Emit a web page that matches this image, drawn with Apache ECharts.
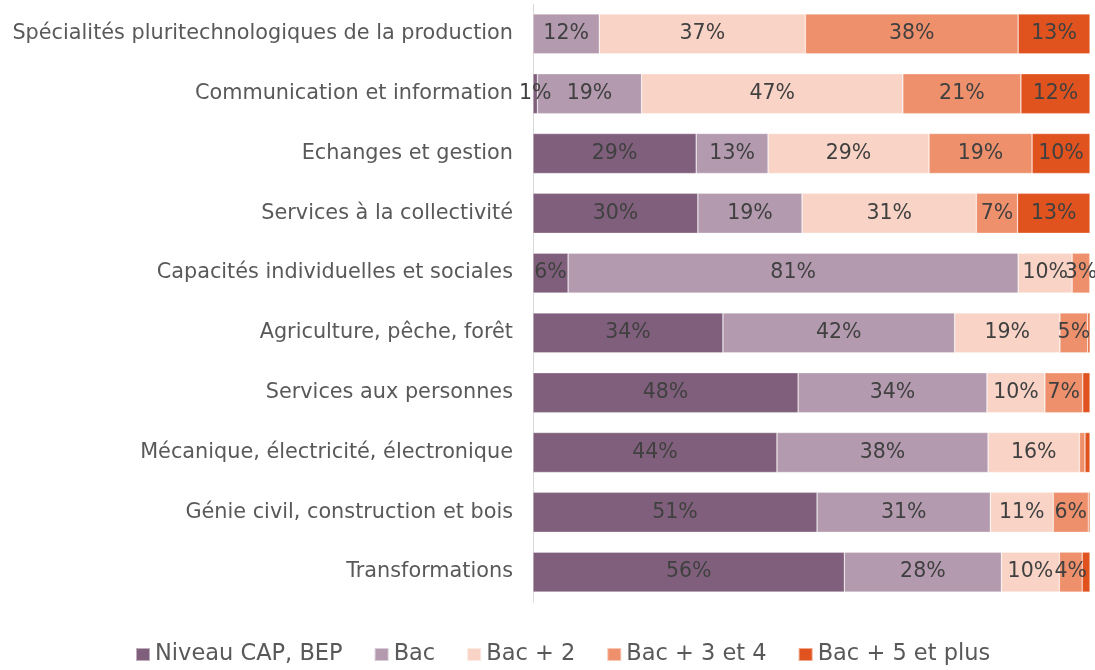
<!DOCTYPE html>
<html>
<head>
<meta charset="utf-8">
<script src="https://cdn.jsdelivr.net/npm/echarts@6/dist/echarts.min.js"></script>
<style>
  html, body { margin: 0; padding: 0; background: #fff; }
  #chart { width: 1095px; height: 670px; }
</style>
</head>
<body>
<div id="chart"></div>
<script>
// domaines de formation (de haut en bas)
const categories = [
  'Spécialités pluritechnologiques de la production',
  'Communication et information',
  'Echanges et gestion',
  'Services à la collectivité',
  'Capacités individuelles et sociales',
  'Agriculture, pêche, forêt',
  'Services aux personnes',
  'Mécanique, électricité, électronique',
  'Génie civil, construction et bois',
  'Transformations'
];

const levels = ['Niveau CAP, BEP', 'Bac', 'Bac + 2', 'Bac + 3 et 4', 'Bac + 5 et plus'];
const colors = ['#7f5f7b', '#b39aae', '#f9d4c6', '#ee906c', '#e0531e'];

// parts en %
const capBep = [0, 0.8, 29.3, 29.6, 6.3, 34.1, 47.6, 43.8, 51.0, 55.9];
const bac = [11.9, 18.7, 12.9, 18.7, 80.8, 41.6, 33.9, 37.9, 31.1, 28.2];
const bac2 = [37.0, 46.9, 28.9, 31.3, 9.7, 18.9, 10.4, 16.4, 11.3, 10.4];
const bac34 = [38.2, 21.2, 18.5, 7.4, 3.2, 5.0, 6.8, 1.0, 6.3, 4.1];
const bac5 = [12.9, 12.4, 10.4, 13.0, 0, 0.4, 1.3, 0.9, 0.3, 1.4];

const allData = [capBep, bac, bac2, bac34, bac5];

const chart = echarts.init(document.getElementById('chart'));
const font = 'DejaVu Sans';

const series = levels.map(function (name, s) {
  return {
    name: name,
    type: 'bar',
    stack: 'total',
    barWidth: 40,
    itemStyle: {
      color: colors[s],
      borderColor: 'rgba(255,255,255,0.5)',
      borderWidth: 0.6
    },
    label: {
      show: true,
      position: 'inside',
      color: '#404040',
      fontFamily: font,
      fontSize: 20.5,
      formatter: function (p) {
        // petites valeurs non étiquetées, sauf le 1% de Communication
        if (p.value < 2 && !(s === 0 && p.dataIndex === 1)) return '';
        return Math.round(p.value) + '%';
      }
    },
    data: allData[s]
  };
});

chart.setOption({
  animation: false,
  grid: { left: 533, right: 5, top: 4, bottom: 68 },
  legend: {
    bottom: -1,
    left: 130,
    icon: 'rect',
    itemWidth: 14,
    itemHeight: 13,
    itemGap: 31,
    textStyle: { color: '#595959', fontFamily: font, fontSize: 22.5 },
    data: levels
  },
  xAxis: {
    type: 'value',
    min: 0,
    max: 100,
    show: false
  },
  yAxis: {
    type: 'category',
    inverse: true,
    data: categories,
    axisLine: { show: true, lineStyle: { color: '#d9d9d9', width: 1 } },
    axisTick: { show: false },
    axisLabel: { color: '#595959', fontFamily: font, fontSize: 20.8, margin: 20 }
  },
  series: series
});
</script>
</body>
</html>
